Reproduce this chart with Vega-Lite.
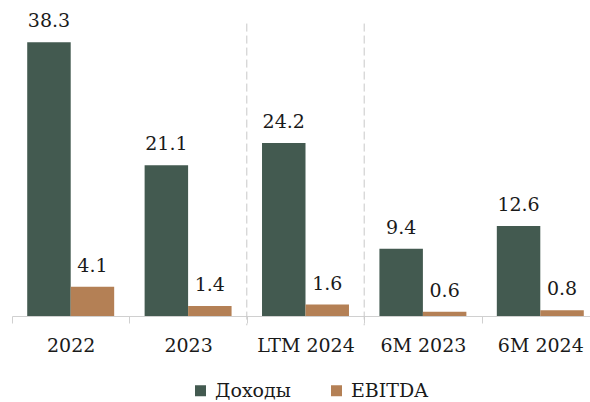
{
  "$schema": "https://vega.github.io/schema/vega-lite/v6.json",
  "width": 578,
  "height": 286,
  "autosize": {"type": "none"},
  "padding": {"left": 12, "top": 30, "right": 0, "bottom": 86},
  "background": "white",
  "config": {"view": {"stroke": null}, "font": "DejaVu Serif"},
  "datasets": {
    "bars": [
      {"category": "2022", "series": "Доходы", "value": 38.3},
      {"category": "2022", "series": "EBITDA", "value": 4.1},
      {"category": "2023", "series": "Доходы", "value": 21.1},
      {"category": "2023", "series": "EBITDA", "value": 1.4},
      {"category": "LTM 2024", "series": "Доходы", "value": 24.2},
      {"category": "LTM 2024", "series": "EBITDA", "value": 1.6},
      {"category": "6M 2023", "series": "Доходы", "value": 9.4},
      {"category": "6M 2023", "series": "EBITDA", "value": 0.6},
      {"category": "6M 2024", "series": "Доходы", "value": 12.6},
      {"category": "6M 2024", "series": "EBITDA", "value": 0.8}
    ],
    "seps": [{"category": "LTM 2024"}, {"category": "6M 2023"}]
  },
  "layer": [
    {
      "data": {"name": "bars"},
      "mark": {"type": "bar"},
      "encoding": {
        "x": {
          "field": "category", "type": "nominal",
          "sort": ["2022", "2023", "LTM 2024", "6M 2023", "6M 2024"],
          "scale": {"range": [0, 587], "paddingInner": 0, "paddingOuter": 0},
          "axis": {
            "title": null, "labelAngle": 0, "labelFontSize": 19, "labelColor": "#1a1a1a",
            "domainColor": "#d0d0d0", "tickColor": "#d0d0d0", "tickSize": 7,
            "tickBand": "extent", "labelPadding": 13
          }
        },
        "xOffset": {"field": "series", "sort": ["Доходы", "EBITDA"], "scale": {"paddingInner": 0, "paddingOuter": 0.35}},
        "y": {"field": "value", "type": "quantitative", "scale": {"domain": [0, 40]}, "axis": null},
        "color": {
          "field": "series", "type": "nominal", "sort": ["Доходы", "EBITDA"],
          "scale": {"domain": ["Доходы", "EBITDA"], "range": ["#435a50", "#b48055"]},
          "legend": {
            "title": null, "orient": "none", "direction": "horizontal",
            "legendX": 179, "legendY": 351,
            "symbolType": "square", "symbolSize": 121, "symbolStrokeWidth": 0,
            "labelFontSize": 19, "labelColor": "#1a1a1a",
            "labelOffset": 5, "columnPadding": 36
          }
        }
      }
    },
    {
      "data": {"name": "bars"},
      "mark": {"type": "text", "dy": -15, "baseline": "alphabetic", "fontSize": 19, "color": "#1a1a1a"},
      "encoding": {
        "x": {"field": "category", "type": "nominal", "sort": ["2022", "2023", "LTM 2024", "6M 2023", "6M 2024"]},
        "xOffset": {"field": "series", "sort": ["Доходы", "EBITDA"]},
        "y": {"field": "value", "type": "quantitative"},
        "text": {"field": "value", "type": "quantitative", "format": ".1f"}
      }
    },
    {
      "data": {"name": "seps"},
      "mark": {"type": "rule", "color": "#c8c8c8", "strokeWidth": 1, "strokeDash": [8, 4]},
      "encoding": {
        "x": {"field": "category", "type": "nominal", "bandPosition": 0, "sort": ["2022", "2023", "LTM 2024", "6M 2023", "6M 2024"]},
        "y": {"datum": 40.9},
        "y2": {"datum": -1.3}
      }
    }
  ]
}
